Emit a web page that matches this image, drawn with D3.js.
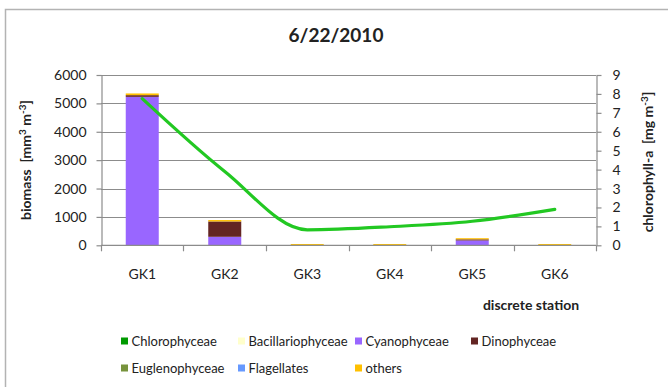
<!DOCTYPE html>
<html>
<head>
<meta charset="utf-8">
<script src="https://cdn.jsdelivr.net/npm/d3@7"></script>
<style>
  body { margin: 0; background: #fff; }
  svg { display: block; }
  text { font-family: Lato, "Open Sans", "DejaVu Sans", sans-serif; fill: #222; }
</style>
</head>
<body>
<svg id="chart" width="668" height="387"></svg>
<script>
// Phytoplankton biomass per discrete station (mm³ m⁻³), stacked by group
const stations = ["GK1", "GK2", "GK3", "GK4", "GK5", "GK6"];
const chlorophyceae     = [0, 0, 0, 0, 0, 0];
const bacillariophyceae = [0, 0, 0, 0, 0, 0];
const cyanophyceae      = [5230, 300, 0, 0, 170, 0];
const dinophyceae       = [60, 540, 0, 0, 40, 0];
const euglenophyceae    = [0, 0, 0, 0, 0, 0];
const flagellates       = [0, 0, 0, 0, 0, 0];
const others            = [60, 50, 45, 45, 40, 45];

// Chlorophyll-a concentration (mg m⁻³), right axis
const chlorophyllA = [7.75, 3.9, 0.82, 0.98, 1.27, 1.9];

const biomassTicks = [0, 1000, 2000, 3000, 4000, 5000, 6000];
const chlaTicks = [0, 1, 2, 3, 4, 5, 6, 7, 8, 9];

const groupNames = ["Chlorophyceae", "Bacillariophyceae", "Cyanophyceae", "Dinophyceae",
                    "Euglenophyceae", "Flagellates", "others"];
const groupValues = [chlorophyceae, bacillariophyceae, cyanophyceae, dinophyceae,
                     euglenophyceae, flagellates, others];
const groupColors = ["#009a00", "#ffffcc", "#9966ff", "#632523", "#77933c", "#6699ff", "#ffc000"];

const table = stations.map((s, i) => {
  const row = { station: s };
  groupNames.forEach((g, k) => { row[g] = groupValues[k][i]; });
  return row;
});

const svg = d3.select("#chart");
const plot = { left: 101, right: 596, top: 75, bottom: 245.3 };

// outer chart frame
svg.append("rect")
  .attr("x", 5.5).attr("y", 9.5).attr("width", 700).attr("height", 420)
  .attr("fill", "#fff").attr("stroke", "#b3b3b3").attr("stroke-width", 1.5);

const x = d3.scaleBand().domain(stations)
  .range([plot.left, plot.right]).paddingInner(0.6).paddingOuter(0.3);
const yL = d3.scaleLinear().domain([0, 6000]).range([plot.bottom, plot.top]);
const yR = d3.scaleLinear().domain([0, 9]).range([plot.bottom, plot.top]);

// horizontal gridlines
svg.append("g").selectAll("line")
  .data(biomassTicks.filter(d => d > 0))
  .join("line")
  .attr("x1", plot.left).attr("x2", plot.right)
  .attr("y1", d => Math.round(yL(d)) + 0.5).attr("y2", d => Math.round(yL(d)) + 0.5)
  .attr("stroke", "#8c8c8c").attr("stroke-width", 1.2);

// stacked bars
const series = d3.stack().keys(groupNames)(table);
svg.append("g").selectAll("g")
  .data(series)
  .join("g")
  .attr("fill", (d, i) => groupColors[i])
  .selectAll("rect")
  .data(d => d)
  .join("rect")
  .attr("x", d => x(d.data.station))
  .attr("width", x.bandwidth())
  .attr("y", d => yL(d[1]))
  .attr("height", d => yL(d[0]) - yL(d[1]));

// left axis
const axisL = svg.append("g")
  .attr("transform", `translate(${plot.left + 0.5},0)`)
  .call(d3.axisLeft(yL).tickValues(biomassTicks).tickFormat(d3.format("d"))
    .tickSize(5).tickPadding(10).tickSizeOuter(0));
axisL.selectAll("path, line").attr("stroke", "#8c8c8c").attr("stroke-width", 1.2);
axisL.selectAll("text").attr("font-size", 14).attr("fill", "#222")
  .attr("font-family", "Lato, sans-serif");

// right axis
const axisR = svg.append("g")
  .attr("transform", `translate(${plot.right + 0.5},0)`)
  .call(d3.axisRight(yR).tickValues(chlaTicks).tickFormat(d3.format("d"))
    .tickSize(5).tickPadding(11).tickSizeOuter(0));
axisR.selectAll("path, line").attr("stroke", "#8c8c8c").attr("stroke-width", 1.2);
axisR.selectAll("text").attr("font-size", 14).attr("fill", "#222")
  .attr("font-family", "Lato, sans-serif");

// category axis: baseline, boundary ticks, labels
const gap = x.step() - x.bandwidth();
const bounds = stations.map(s => x(s) - gap / 2).concat([plot.right]);
const axisB = svg.append("g");
axisB.append("line")
  .attr("x1", plot.left).attr("x2", plot.right)
  .attr("y1", plot.bottom).attr("y2", plot.bottom)
  .attr("stroke", "#8c8c8c").attr("stroke-width", 1.2);
axisB.selectAll("line.tick")
  .data(bounds)
  .join("line").attr("class", "tick")
  .attr("x1", d => Math.round(d) + 0.5).attr("x2", d => Math.round(d) + 0.5)
  .attr("y1", plot.bottom).attr("y2", plot.bottom + 6)
  .attr("stroke", "#8c8c8c").attr("stroke-width", 1.2);
axisB.selectAll("text")
  .data(stations)
  .join("text")
  .attr("x", d => x(d) + x.bandwidth() / 2)
  .attr("y", 279)
  .attr("text-anchor", "middle")
  .attr("font-size", 14)
  .text(d => d);

// chlorophyll-a line
const line = d3.line()
  .x((d, i) => x(stations[i]) + x.bandwidth() / 2)
  .y(d => yR(d))
  .curve(d3.curveMonotoneX);
svg.append("path")
  .datum(chlorophyllA)
  .attr("d", line)
  .attr("fill", "none")
  .attr("stroke", "#22c822")
  .attr("stroke-width", 3.2)
  .attr("stroke-linecap", "round");

// title
svg.append("text")
  .attr("x", 336).attr("y", 42)
  .attr("text-anchor", "middle")
  .attr("font-size", 19).attr("font-weight", "bold")
  .text("6/22/2010");

// axis titles
const titleL = svg.append("text")
  .attr("transform", "translate(31,160) rotate(-90)")
  .attr("text-anchor", "middle")
  .attr("font-size", 14).attr("font-weight", "bold");
titleL.append("tspan").text("biomass\u00a0 [mm");
titleL.append("tspan").attr("dy", -5).attr("font-size", 10).text("3");
titleL.append("tspan").attr("dy", 5).text(" m");
titleL.append("tspan").attr("dy", -5).attr("font-size", 10).text("-3");
titleL.append("tspan").attr("dy", 5).text("]");

const titleR = svg.append("text")
  .attr("transform", "translate(653,162) rotate(-90)")
  .attr("text-anchor", "middle")
  .attr("font-size", 14).attr("font-weight", "bold");
titleR.append("tspan").text("chlorophyll-a\u00a0 [mg m");
titleR.append("tspan").attr("dy", -5).attr("font-size", 10).text("-3");
titleR.append("tspan").attr("dy", 5).text("]");

svg.append("text")
  .attr("x", 531).attr("y", 310)
  .attr("text-anchor", "middle")
  .attr("font-size", 14).attr("font-weight", "bold")
  .text("discrete station");

// legend: two rows of four columns
const legendCols = [121, 238, 355, 471];
const legendRows = [341, 368];
const legend = svg.append("g").selectAll("g")
  .data(groupNames)
  .join("g")
  .attr("transform", (d, i) => `translate(${legendCols[i % 4]},${legendRows[Math.floor(i / 4)]})`);
legend.append("rect")
  .attr("x", 0).attr("y", -3.5).attr("width", 7).attr("height", 7)
  .attr("fill", (d, i) => groupColors[i]);
legend.append("text")
  .attr("x", 10.5).attr("dy", "0.36em")
  .attr("font-size", 13)
  .text(d => d);
</script>
</body>
</html>
